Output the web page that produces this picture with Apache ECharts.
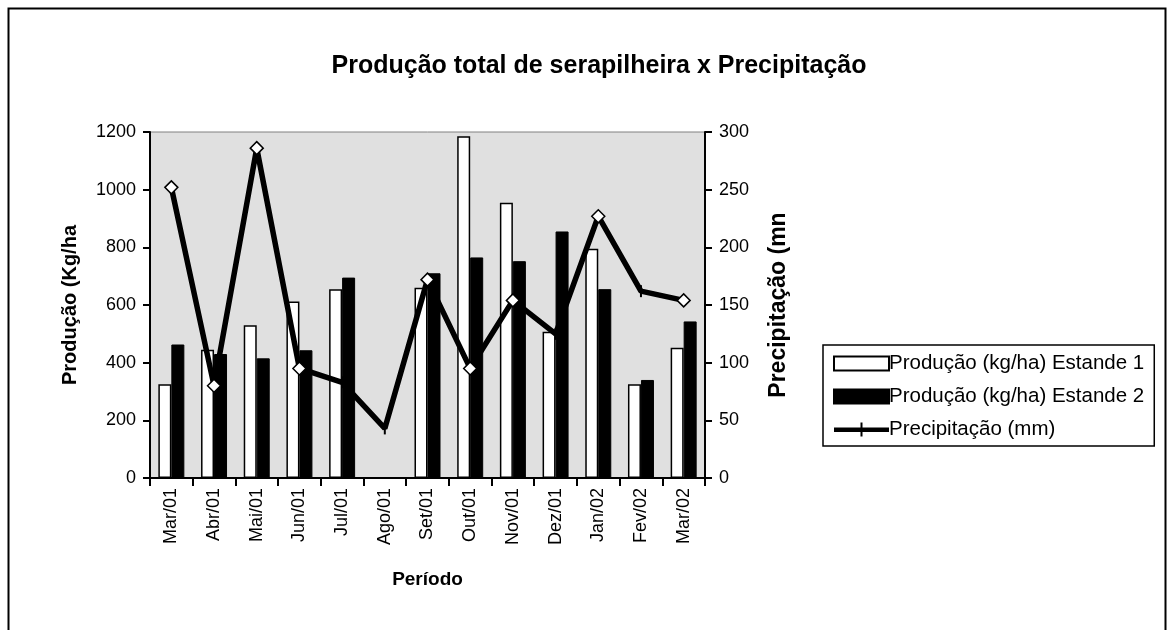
<!DOCTYPE html>
<html>
<head>
<meta charset="utf-8">
<script src="https://cdn.jsdelivr.net/npm/echarts@6/dist/echarts.min.js"></script>
<style>
  html, body { margin: 0; padding: 0; background: #fff; }
  #chart { width: 1174px; height: 630px; }
</style>
</head>
<body>
<div id="chart"></div>
<script>
var periodos = ['Mar/01', 'Abr/01', 'Mai/01', 'Jun/01', 'Jul/01', 'Ago/01', 'Set/01',
                'Out/01', 'Nov/01', 'Dez/01', 'Jan/02', 'Fev/02', 'Mar/02'];
var estande1 = [325, 445, 530, 612, 655, 0, 660, 1185, 955, 507, 795, 325, 452];
var estande2 = [463, 430, 415, 443, 695, 0, 710, 765, 752, 855, 655, 340, 543];
var precipitacao = [252, 80, 286, 95, 83, 43, 172, 95, 154, 125, 227, 162, 154];
// pontos da linha que aparecem com losango
var comLosango = [0, 1, 2, 3, 6, 7, 8, 10, 12];

var fonte = 'Liberation Sans, Arial, sans-serif';

var chuvaData = precipitacao.map(function (v, i) {
    if (comLosango.indexOf(i) >= 0) {
        return { value: v };
    }
    return { value: v, symbol: 'rect', symbolSize: [2, 12], itemStyle: { color: '#000', borderWidth: 0 } };
});

function semMilhar(v) {
    return String(v);
}

var myChart = echarts.init(document.getElementById('chart'));

var option = {
    backgroundColor: '#fff',
    textStyle: { fontFamily: fonte, color: '#000' },
    animation: false,
    title: {
        text: 'Produção total de serapilheira x Precipitação',
        left: 594,
        textAlign: 'center',
        top: 49,
        textStyle: { fontFamily: fonte, fontSize: 25, fontWeight: 'bold', color: '#000' }
    },
    graphic: [{
        type: 'rect',
        shape: { x: 8.5, y: 8.5, width: 1157, height: 640 },
        style: { fill: 'none', stroke: '#000', lineWidth: 2 },
        silent: true
    }],
    legend: {
        orient: 'vertical',
        left: 823,
        top: 345,
        padding: [8, 10, 6, 10],
        itemGap: 12,
        itemWidth: 55,
        itemHeight: 14,
        borderColor: '#000',
        borderWidth: 1.5,
        textStyle: { fontFamily: fonte, fontSize: 20.5, color: '#000', padding: [0, 0, 0, -5] },
        data: [
            { name: 'Produção (kg/ha) Estande 1', icon: 'rect' },
            { name: 'Produção (kg/ha) Estande 2', icon: 'rect' },
            {
                name: 'Precipitação (mm)',
                icon: 'path://M0,5 L55,5 L55,9.5 L0,9.5 Z M26.5,0 L28.5,0 L28.5,14 L26.5,14 Z',
                itemStyle: { color: '#000', borderWidth: 0 }
            }
        ]
    },
    grid: {
        left: 150,
        right: 469,
        top: 132,
        bottom: 152,
        show: true,
        backgroundColor: '#e0e0e0',
        borderColor: '#808080',
        borderWidth: 1
    },
    xAxis: {
        type: 'category',
        data: periodos,
        name: 'Período',
        nameLocation: 'middle',
        nameGap: 92,
        nameTextStyle: { fontFamily: fonte, fontSize: 19, fontWeight: 'bold', color: '#000' },
        axisLine: { lineStyle: { color: '#000', width: 2 } },
        axisTick: { show: true, length: 8, lineStyle: { color: '#000', width: 2 } },
        axisLabel: { rotate: 90, fontSize: 18, color: '#000', margin: 10, interval: 0 }
    },
    yAxis: [{
        type: 'value',
        min: 0,
        max: 1200,
        interval: 200,
        name: 'Produção (Kg/ha',
        nameLocation: 'middle',
        nameGap: 70,
        nameTextStyle: { fontFamily: fonte, fontSize: 20, fontWeight: 'bold', color: '#000' },
        axisLine: { show: true, lineStyle: { color: '#000', width: 2 } },
        axisTick: { show: true, length: 7, lineStyle: { color: '#000', width: 2 } },
        axisLabel: { fontSize: 18, color: '#000', margin: 14, formatter: semMilhar },
        splitLine: { show: false }
    }, {
        type: 'value',
        min: 0,
        max: 300,
        interval: 50,
        name: 'Precipitação (mn',
        nameLocation: 'middle',
        nameGap: 62,
        nameTextStyle: { fontFamily: fonte, fontSize: 23, fontWeight: 'bold', color: '#000' },
        axisLine: { show: true, lineStyle: { color: '#000', width: 2 } },
        axisTick: { show: true, length: 7, lineStyle: { color: '#000', width: 2 } },
        axisLabel: { fontSize: 18, color: '#000', margin: 14, formatter: semMilhar },
        splitLine: { show: false }
    }],
    series: [{
        name: 'Produção (kg/ha) Estande 1',
        type: 'bar',
        data: estande1,
        barWidth: 13,
        barGap: '0%',
        itemStyle: { color: '#fff', borderColor: '#000', borderWidth: 1.5 }
    }, {
        name: 'Produção (kg/ha) Estande 2',
        type: 'bar',
        data: estande2,
        barWidth: 13,
        barGap: '0%',
        itemStyle: { color: '#000', borderColor: '#000', borderWidth: 1 }
    }, {
        name: 'Precipitação (mm)',
        type: 'line',
        yAxisIndex: 1,
        data: chuvaData,
        symbol: 'diamond',
        symbolSize: 13,
        z: 5,
        lineStyle: { color: '#000', width: 5.5 },
        itemStyle: { color: '#fff', borderColor: '#000', borderWidth: 1.5 }
    }]
};

myChart.setOption(option);
</script>
</body>
</html>
